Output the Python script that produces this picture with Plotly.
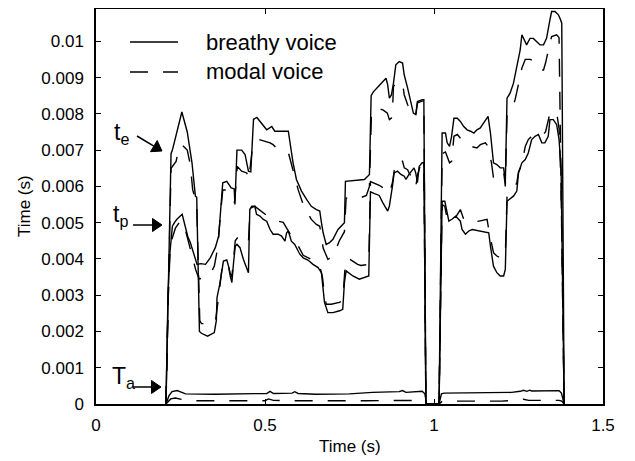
import math
import plotly.graph_objects as go

# ---------------- data ----------------
# breathy voice, t_e (solid)
t_te_breathy = [0.207, 0.222, 0.226, 0.254, 0.270, 0.284, 0.294, 0.298, 0.306, 0.312, 0.330, 0.350, 0.356,
                0.358, 0.366, 0.373, 0.377, 0.387, 0.392, 0.397, 0.402, 0.407, 0.412, 0.417, 0.426, 0.436,
                0.446, 0.451, 0.455, 0.461, 0.470, 0.475, 0.485, 0.495, 0.505, 0.515, 0.524, 0.539, 0.549,
                0.559, 0.564, 0.569, 0.578, 0.588, 0.603, 0.613, 0.627, 0.642, 0.657, 0.667, 0.672, 0.676,
                0.686, 0.701, 0.721, 0.730, 0.735, 0.740, 0.760, 0.779, 0.807, 0.812, 0.824, 0.838, 0.848,
                0.858, 0.863, 0.868, 0.873, 0.877, 0.882, 0.892, 0.902, 0.912, 0.917, 0.926, 0.941, 0.946,
                0.951, 0.956, 0.965, 0.970, 0.976, 1.015,
                1.024, 1.034, 1.039, 1.046, 1.052, 1.059, 1.069, 1.078, 1.088, 1.098, 1.108, 1.118, 1.127,
                1.137, 1.147, 1.160, 1.167, 1.172, 1.176, 1.186, 1.196, 1.206, 1.211, 1.216, 1.225, 1.235,
                1.245, 1.255, 1.260, 1.270, 1.274, 1.284, 1.294, 1.304, 1.314, 1.324, 1.333, 1.343, 1.348,
                1.358, 1.368, 1.373, 1.378, 1.385]
te_breathy = [0, 0.0069, 0.0070, 0.00805, 0.0075, 0.00665, 0.00573, 0.0057, 0.0020, 0.00195, 0.00187, 0.00197, 0.0023,
              0.00293, 0.0033, 0.00371, 0.00394, 0.00397, 0.0038, 0.00353, 0.00335, 0.0039, 0.00435, 0.0044, 0.00431, 0.00399,
              0.00371, 0.00362, 0.00536, 0.00545, 0.00545, 0.00523, 0.00518, 0.00509, 0.00504, 0.00481, 0.00468, 0.00468, 0.00463,
              0.00449, 0.00472, 0.00477, 0.00449, 0.0044, 0.00413, 0.00403, 0.00397, 0.00385, 0.00376, 0.00362, 0.00316, 0.0028,
              0.00252, 0.00252, 0.00257, 0.00261, 0.00335, 0.00367, 0.00353, 0.00344, 0.00353, 0.00585, 0.0058, 0.00575, 0.00556,
              0.00537, 0.00532, 0.00546, 0.00573, 0.0060, 0.00637, 0.00642, 0.00633, 0.00628, 0.00619, 0.00633, 0.00651, 0.00637,
              0.0061, 0.00655, 0.00665, 0.00665, 0, 0,
              0.00747, 0.00747, 0.0072, 0.0071, 0.00738, 0.00788, 0.00788, 0.00779, 0.00765, 0.00756, 0.00752, 0.00747, 0.00756,
              0.00761, 0.00775, 0.00793, 0.00747, 0.0071, 0.00665, 0.0066, 0.00651, 0.00651, 0.0061, 0.00843, 0.00857, 0.00884,
              0.0093, 0.00976, 0.01018, 0.00999, 0.0099, 0.01008, 0.01008, 0.00999, 0.0099, 0.0099, 0.01008, 0.01059, 0.01082,
              0.01082, 0.01073, 0.01063, 0.0105, 0]

# breathy voice, t_p (solid)
t_tp_breathy = [0.207, 0.213, 0.218, 0.226, 0.232, 0.240, 0.255, 0.263, 0.272, 0.279, 0.290, 0.299, 0.310, 0.324,
                0.338, 0.353, 0.363, 0.370, 0.375, 0.387, 0.400, 0.409, 0.411, 0.417, 0.431, 0.441, 0.451, 0.458,
                0.466, 0.476, 0.490, 0.505, 0.520, 0.529, 0.569, 0.578, 0.583, 0.593, 0.608, 0.623, 0.637, 0.652,
                0.662, 0.667, 0.672, 0.681, 0.691, 0.701, 0.716, 0.730, 0.735, 0.738, 0.770, 0.794, 0.804, 0.809,
                0.814, 0.820, 0.840, 0.858, 0.863, 0.868, 0.874, 0.880, 0.887, 0.897, 0.907, 0.912, 0.922, 0.931,
                0.939, 0.946, 0.951, 0.965, 0.970, 0.976, 1.015,
                1.024, 1.032, 1.039, 1.044, 1.054, 1.064, 1.078, 1.083, 1.093, 1.103, 1.113, 1.137, 1.162, 1.167,
                1.176, 1.186, 1.196, 1.206, 1.211, 1.216, 1.235, 1.245, 1.250, 1.260, 1.270, 1.279, 1.289, 1.299,
                1.309, 1.319, 1.328, 1.338, 1.343, 1.353, 1.363, 1.370, 1.376, 1.385]
tp_breathy = [0, 0.0030, 0.0041, 0.0049, 0.0050, 0.0051, 0.00523, 0.00495, 0.0046, 0.00445, 0.0041, 0.00385, 0.00387, 0.00385,
              0.00403, 0.00431, 0.00463, 0.00536, 0.0061, 0.00614, 0.00596, 0.00593, 0.0055, 0.0070, 0.0070, 0.00688, 0.00642, 0.0064,
              0.00785, 0.0079, 0.00775, 0.00756, 0.00765, 0.00752, 0.00752, 0.00692, 0.00665, 0.00619, 0.00587, 0.00564, 0.00545, 0.00536,
              0.00532, 0.0050, 0.00472, 0.0044, 0.00445, 0.00454, 0.00481, 0.00495, 0.0050, 0.00614, 0.00616, 0.00619, 0.00628, 0.00633,
              0.0085, 0.0086, 0.0088, 0.00898, 0.0088, 0.00843, 0.00852, 0.00884, 0.00935, 0.00944, 0.0094, 0.00907, 0.00871, 0.00834,
              0.00802, 0.00798, 0.00834, 0.00839, 0.00839, 0, 0,
              0.00559, 0.00559, 0.00527, 0.00504, 0.0051, 0.00518, 0.00504, 0.00481, 0.00468, 0.00477, 0.00481, 0.00477, 0.00472, 0.00435,
              0.0038, 0.00362, 0.00353, 0.00353, 0.00371, 0.00559, 0.00573, 0.00587, 0.00637, 0.00665, 0.00674, 0.00692, 0.00729, 0.00738,
              0.00743, 0.0072, 0.0072, 0.00738, 0.00784, 0.00784, 0.0077, 0.00729, 0.0065, 0]

# modal voice, t_e (dashed)
t_te_modal = [0.207, 0.222, 0.237, 0.245, 0.254, 0.270, 0.279, 0.286, 0.294, 0.298, 0.307, 0.312, 0.338, 0.353,
              0.358, 0.366, 0.373, 0.380, 0.390, 0.397, 0.402, 0.412, 0.420, 0.431, 0.441, 0.451, 0.456, 0.470,
              0.490, 0.505, 0.515, 0.529, 0.539, 0.554, 0.565, 0.578, 0.588, 0.598, 0.603, 0.613, 0.637, 0.647,
              0.662, 0.670, 0.676, 0.681, 0.696, 0.720, 0.730, 0.737, 0.745, 0.760, 0.774, 0.784, 0.807, 0.812,
              0.824, 0.838, 0.853, 0.868, 0.877, 0.885, 0.897, 0.907, 0.912, 0.922, 0.926, 0.936, 0.941, 0.946,
              0.951, 0.960, 0.970, 0.976, 1.015,
              1.024, 1.034, 1.039, 1.046, 1.052, 1.059, 1.069, 1.078, 1.090, 1.110, 1.127, 1.137, 1.152, 1.160,
              1.170, 1.176, 1.190, 1.206, 1.211, 1.216, 1.220, 1.235, 1.240, 1.255, 1.260, 1.270, 1.285, 1.295,
              1.304, 1.314, 1.324, 1.330, 1.343, 1.348, 1.363, 1.370, 1.376, 1.385]
te_modal = [0, 0.0065, 0.00669, 0.00706, 0.00715, 0.0070, 0.0066, 0.00591, 0.00564, 0.0055, 0.0023, 0.00222, 0.0022, 0.00225,
            0.0026, 0.0033, 0.00375, 0.0039, 0.0039, 0.0036, 0.0035, 0.0045, 0.0046, 0.00458, 0.00449, 0.00445, 0.0054, 0.00545,
            0.0053, 0.0052, 0.00518, 0.00509, 0.00504, 0.00501, 0.00485, 0.00463, 0.00454, 0.00435, 0.00426, 0.0041, 0.00399, 0.00394,
            0.0038, 0.0035, 0.0030, 0.00275, 0.00275, 0.0028, 0.00285, 0.0038, 0.00403, 0.00394, 0.00385, 0.00382, 0.00385, 0.00613,
            0.00608, 0.00603, 0.00594, 0.0058, 0.0061, 0.0066, 0.00674, 0.00669, 0.00651, 0.00646, 0.00637, 0.00623, 0.00608, 0.00599,
            0.0063, 0.0066, 0.00662, 0, 0,
            0.0069, 0.00695, 0.00683, 0.00665, 0.00669, 0.00738, 0.00743, 0.00733, 0.0072, 0.0071, 0.00706, 0.00715, 0.0072, 0.0071,
            0.00665, 0.00623, 0.0063, 0.00642, 0.0060, 0.00793, 0.00798, 0.00825, 0.00839, 0.00903, 0.00926, 0.0095, 0.0095, 0.00945,
            0.00935, 0.00921, 0.00921, 0.0094, 0.00995, 0.01013, 0.01018, 0.0101, 0.0060, 0]

# modal voice, t_p (dashed)
t_tp_modal = [0.207, 0.214, 0.220, 0.235, 0.250, 0.260, 0.270, 0.285, 0.295, 0.305, 0.324, 0.333, 0.343, 0.350,
              0.360, 0.368, 0.375, 0.390, 0.400, 0.410, 0.418, 0.431, 0.446, 0.452, 0.462, 0.480, 0.500, 0.515,
              0.524, 0.534, 0.570, 0.583, 0.598, 0.613, 0.637, 0.652, 0.662, 0.672, 0.686, 0.696, 0.706, 0.720,
              0.735, 0.740, 0.770, 0.800, 0.809, 0.815, 0.824, 0.833, 0.850, 0.862, 0.868, 0.874, 0.877, 0.880,
              0.887, 0.897, 0.907, 0.912, 0.922, 0.931, 0.941, 0.946, 0.951, 0.965, 0.970, 0.976, 1.015,
              1.024, 1.032, 1.039, 1.050, 1.064, 1.078, 1.088, 1.093, 1.110, 1.137, 1.157, 1.162, 1.176, 1.186,
              1.196, 1.206, 1.211, 1.216, 1.235, 1.245, 1.250, 1.260, 1.270, 1.279, 1.289, 1.299, 1.309, 1.319,
              1.330, 1.343, 1.353, 1.363, 1.370, 1.376, 1.385]
tp_modal = [0, 0.0030, 0.0044, 0.00485, 0.00505, 0.00495, 0.0046, 0.00405, 0.0037, 0.00345, 0.00348, 0.00358, 0.00367, 0.0038,
            0.0043, 0.0052, 0.0059, 0.0059, 0.0057, 0.00555, 0.00655, 0.00642, 0.00637, 0.0062, 0.0070, 0.0073, 0.00724, 0.0072,
            0.00715, 0.00706, 0.0069, 0.00642, 0.00591, 0.0055, 0.00509, 0.00495, 0.0049, 0.0043, 0.00399, 0.00403, 0.00417, 0.0045,
            0.00475, 0.00568, 0.00564, 0.00575, 0.0060, 0.00802, 0.00811, 0.00816, 0.0081, 0.00802, 0.00784, 0.00788, 0.00802, 0.00875,
            0.00884, 0.00889, 0.00884, 0.00852, 0.00825, 0.00811, 0.00793, 0.00795, 0.0083, 0.00835, 0.00835, 0, 0,
            0.0055, 0.00545, 0.0051, 0.00505, 0.00515, 0.00536, 0.00509, 0.00507, 0.0050, 0.00505, 0.00509, 0.00481, 0.00417, 0.00408,
            0.00403, 0.00405, 0.0041, 0.0057, 0.0059, 0.0061, 0.0064, 0.0066, 0.0071, 0.00729, 0.00738, 0.00743, 0.00738, 0.0074,
            0.0075, 0.00802, 0.00807, 0.00802, 0.0076, 0.0060, 0]

# breathy voice, T_a (solid)
t_ta_breathy = [0.207, 0.216, 0.225, 0.240, 0.252, 0.265, 0.350, 0.450, 0.505, 0.515, 0.525, 0.580, 0.588, 0.598,
                0.650, 0.750, 0.818, 0.897, 0.907, 0.917, 0.951, 0.965, 0.973, 0.978, 1.015, 1.022, 1.030, 1.100,
                1.190, 1.230, 1.255, 1.265, 1.275, 1.283, 1.290, 1.370, 1.377, 1.385]
ta_breathy = [0, 0.00023, 0.00034, 0.00037, 0.00033, 0.00028, 0.00027, 0.00028, 0.00029, 0.00035, 0.00029, 0.0003, 0.00034, 0.00029,
              0.00027, 0.00028, 0.00032, 0.00034, 0.00037, 0.00032, 0.00034, 0.00035, 0.00028, 0, 0, 0.00028, 0.0003, 0.0003,
              0.0003, 0.00032, 0.00035, 0.00038, 0.00035, 0.00038, 0.00036, 0.00037, 0.0003, 0]

# modal voice, T_a (dashed)
t_ta_modal = [0.207, 0.221, 0.235, 0.250, 0.270, 0.500, 0.510, 0.525, 0.600, 0.800, 0.900, 0.965, 0.972, 0.978,
              1.015, 1.025, 1.200, 1.250, 1.265, 1.280, 1.370, 1.378, 1.385]
ta_modal = [0, 0.00014, 0.000165, 0.00014, 0.00009, 0.00009, 0.00014, 0.0001, 0.00009, 0.00009, 0.0001, 0.0001, 0.00008, 0,
            0, 0.00008, 0.00008, 0.0001, 0.00013, 0.0001, 0.0001, 0.00008, 0]

x_tick_vals = [0, 0.5, 1, 1.5]
x_tick_text = ["0", "0.5", "1", "1.5"]
y_tick_vals = [0, 0.001, 0.002, 0.003, 0.004, 0.005, 0.006, 0.007, 0.008, 0.009, 0.01]
y_tick_text = ["0", "0.001", "0.002", "0.003", "0.004", "0.005", "0.006", "0.007", "0.008", "0.009", "0.01"]

# ---------------- layout geometry ----------------
# the page body adds an 8px margin, so the figure is sized/positioned to compensate
OFF = 8
W, H = 627, 453
ML, MR, MT, MB = 88, 32, 1, 57
PW, PH = W - ML - MR, H - MT - MB
Y_TOP = 0.01089  # upper end of the y range


def px(xp, yp):
    """page pixel -> paper coordinates (for decorations only)"""
    return (xp - OFF - ML) / PW, (H - MB - (yp - OFF)) / PH


FONT = "Liberation Sans, Arial, Helvetica, sans-serif"
LW = 1.4
DASH = "18px,15px"

fig = go.Figure()
series = [
    (t_te_breathy, te_breathy, "solid", "breathy voice"),
    (t_tp_breathy, tp_breathy, "solid", "breathy voice"),
    (t_ta_breathy, ta_breathy, "solid", "breathy voice"),
    (t_te_modal, te_modal, DASH, "modal voice"),
    (t_tp_modal, tp_modal, DASH, "modal voice"),
    (t_ta_modal, ta_modal, DASH, "modal voice"),
]
for tx, vy, dash, name in series:
    fig.add_trace(go.Scatter(x=tx, y=vy, mode="lines", name=name, showlegend=False,
                             line=dict(color="black", width=LW, dash=dash)))

axis_common = dict(showline=True, linecolor="black", linewidth=1.5, mirror="ticks",
                   ticks="inside", ticklen=5, tickwidth=1.2, tickcolor="black",
                   showgrid=False, zeroline=False, automargin=False,
                   tickfont=dict(family=FONT, size=17, color="black"))

fig.update_layout(
    template="none",
    width=W, height=H,
    margin=dict(l=ML, r=MR, t=MT, b=MB, pad=0, autoexpand=False),
    paper_bgcolor="white", plot_bgcolor="white",
    font=dict(family=FONT, color="black"),
    xaxis=dict(range=[0, 1.5], tickvals=x_tick_vals, ticktext=x_tick_text,
               ticklabelstandoff=5, **axis_common),
    yaxis=dict(range=[0, Y_TOP], tickvals=y_tick_vals, ticktext=y_tick_text,
               ticklabelstandoff=7, **axis_common),
)

# legend drawn as shapes + text
x0, ys = px(130, 42)
x1, ym = px(178, 72)
fig.add_shape(type="line", xref="paper", yref="paper", x0=x0, x1=x1, y0=ys, y1=ys,
              line=dict(color="black", width=LW))
fig.add_shape(type="line", xref="paper", yref="paper", x0=x0, x1=x1, y0=ym, y1=ym,
              line=dict(color="black", width=LW, dash=DASH))
tx_leg, _ = px(204, 0)
for txt, yy in [("breathy voice", ys), ("modal voice", ym)]:
    fig.add_annotation(text=txt, xref="paper", yref="paper", x=tx_leg, y=yy, xanchor="left", yanchor="middle",
                       showarrow=False, font=dict(family=FONT, size=22, color="black"))

# axis titles
xt, yt = px(350, 447)
fig.add_annotation(text="Time (s)", xref="paper", yref="paper", x=xt, y=yt, xanchor="center",
                   yanchor="middle", showarrow=False, font=dict(family=FONT, size=17, color="black"))
xt, yt = px(24, 206)
fig.add_annotation(text="Time (s)", xref="paper", yref="paper", x=xt, y=yt, xanchor="center",
                   yanchor="middle", textangle=-90, showarrow=False, font=dict(family=FONT, size=17, color="black"))

# parameter labels
labels = [("t<sub>e</sub>", 112, 133), ("t<sub>p</sub>", 111, 215), ("T<sub>a</sub>", 110, 377)]
for txt, lx, ly in labels:
    pxx, pyy = px(lx, ly)
    fig.add_annotation(text=txt, xref="paper", yref="paper", x=pxx, y=pyy, xanchor="left", yanchor="middle",
                       showarrow=False, font=dict(family=FONT, size=23, color="black"))

# arrows drawn as a line plus a filled triangular head (page pixel geometry)
arrow_geom = [((137, 136), (162, 151)), ((133, 225), (162, 225)), ((133, 387), (161, 387))]
HEAD_LEN, HEAD_HALF = 9.5, 6.5
for (tx0, ty0), (tx1, ty1) in arrow_geom:
    dx, dy = tx1 - tx0, ty1 - ty0
    n = math.hypot(dx, dy)
    ux, uy = dx / n, dy / n
    bx, by = tx1 - HEAD_LEN * ux, ty1 - HEAD_LEN * uy
    a = px(tx0, ty0)
    b = px(bx, by)
    fig.add_shape(type="line", xref="paper", yref="paper", x0=a[0], y0=a[1], x1=b[0], y1=b[1],
                  line=dict(color="black", width=1.5))
    c1 = px(bx - HEAD_HALF * uy, by + HEAD_HALF * ux)
    c2 = px(bx + HEAD_HALF * uy, by - HEAD_HALF * ux)
    tip = px(tx1, ty1)
    path = f"M {tip[0]} {tip[1]} L {c1[0]} {c1[1]} L {c2[0]} {c2[1]} Z"
    fig.add_shape(type="path", xref="paper", yref="paper", path=path,
                  fillcolor="black", line=dict(color="black", width=1))

fig.write_html("out.html")
